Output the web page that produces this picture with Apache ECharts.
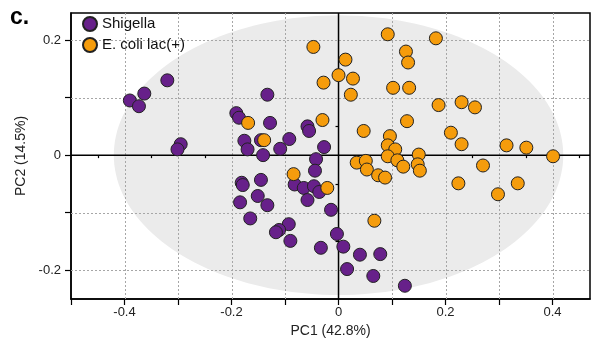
<!DOCTYPE html>
<html><head><meta charset="utf-8">
<script src="https://cdn.jsdelivr.net/npm/echarts@6/dist/echarts.min.js"></script>
<style>html,body{margin:0;padding:0;background:#fff}#c{width:594px;height:347px}</style>
</head><body><div id="c"></div>
<script>
const seriesNames = ['Shigella', 'E. coli lac(+)'];
const shigellaX = [-0.320,-0.363,-0.390,-0.373,-0.295,-0.301,-0.133,-0.191,-0.186,-0.128,-0.058,-0.055,-0.176,-0.145,-0.170,-0.092,-0.109,-0.141,-0.027,-0.042,-0.044,-0.145,-0.181,-0.179,-0.082,-0.065,-0.046,-0.036,-0.151,-0.184,-0.133,-0.058,-0.014,-0.165,-0.093,-0.111,-0.117,-0.090,-0.003,-0.033,0.009,0.040,0.078,0.016,0.065,0.124];
const shigellaY = [0.130,0.107,0.095,0.085,0.019,0.010,0.105,0.073,0.065,0.056,0.050,0.042,0.025,0.026,0.010,0.028,0.011,0.000,0.014,-0.007,-0.027,-0.043,-0.048,-0.052,-0.051,-0.057,-0.054,-0.064,-0.071,-0.082,-0.087,-0.078,-0.095,-0.110,-0.120,-0.130,-0.134,-0.149,-0.137,-0.161,-0.159,-0.173,-0.172,-0.198,-0.210,-0.227];
const ecoliX = [0.092,-0.047,0.126,0.130,0.013,0.182,0.000,-0.028,0.027,0.023,0.102,0.132,-0.169,-0.030,0.128,0.047,-0.139,0.096,0.092,0.106,0.150,0.092,0.110,0.034,0.051,0.053,0.121,0.148,0.152,0.074,0.087,-0.084,-0.021,0.067,0.187,0.230,0.255,0.210,0.230,0.314,0.351,0.401,0.270,0.224,0.335,0.298];
const ecoliY = [0.210,0.188,0.180,0.161,0.166,0.203,0.139,0.126,0.133,0.105,0.117,0.117,0.056,0.061,0.059,0.042,0.026,0.033,0.017,0.010,0.001,-0.002,-0.009,-0.013,-0.010,-0.025,-0.020,-0.016,-0.027,-0.035,-0.039,-0.033,-0.057,-0.114,0.087,0.092,0.083,0.039,0.019,0.017,0.013,-0.002,-0.018,-0.049,-0.049,-0.068];
const xRange = [-0.5, 0.47];
const yRange = [-0.25, 0.247];
const xLabels = [-0.4, -0.2, 0, 0.2, 0.4];
const yLabels = [-0.2, 0, 0.2];
const xMajorTicks = [-0.5, -0.4, -0.3, -0.2, -0.1, 0, 0.1, 0.2, 0.3, 0.4];
const xMinorTicks = [-0.45, -0.35, -0.25, -0.15, -0.05, 0.05, 0.15, 0.25, 0.35, 0.45];
const yMajorTicks = [-0.2, -0.1, 0, 0.1, 0.2];
const yMinorTicks = [-0.15, -0.05, 0.05, 0.15];
const xGrid = [-0.4, -0.3, -0.2, -0.1, 0.1, 0.2, 0.3, 0.4];
const yGrid = [-0.2, -0.1, 0.1, 0.2];
// confidence ellipse: centre x, centre y, half-width, half-height
const ellipse = [0, 0, 0.42, 0.243];

const colors = ['#67208a', '#f59c0c'];
const zip = (a, b) => a.map((v, i) => [v, b[i]]);
const fmt = v => Math.abs(v) < 1e-9 ? '0' : String(+v.toFixed(1));
const font = 'Liberation Sans, Arial, sans-serif';
const tickStyle = { color: '#000', width: 1.2 };

const baseAxis = (range) => ({
  type: 'value', min: range[0], max: range[1],
  axisLine: { onZero: false, lineStyle: { color: '#000', width: 1.5 } },
  splitLine: { show: false }
});

const chart = echarts.init(document.getElementById('c'));
chart.setOption({
  animation: false,
  title: { text: 'c.', left: 5, top: 1, textStyle: { fontFamily: font, fontSize: 23, fontWeight: 'bold', color: '#000' } },
  legend: {
    data: seriesNames, orient: 'vertical', left: 82, top: 16, itemGap: 5, padding: 0,
    itemWidth: 14, itemHeight: 14, icon: 'circle',
    textStyle: { fontFamily: font, fontSize: 15, color: '#111' }
  },
  grid: { left: 71, right: 4, top: 13, bottom: 48, show: true, borderColor: '#000', borderWidth: 1.5, backgroundColor: 'transparent' },
  xAxis: [
    Object.assign(baseAxis(xRange), {
      name: 'PC1 (42.8%)', nameLocation: 'middle', nameGap: 24,
      nameTextStyle: { fontFamily: font, fontSize: 14, color: '#222' },
      axisTick: { show: true, length: 6, lineStyle: tickStyle, customValues: xMajorTicks },
      axisLabel: { customValues: xLabels, formatter: fmt, margin: 7, fontFamily: font, fontSize: 13, color: '#222' }
    }),
    Object.assign(baseAxis(xRange), {
      position: 'bottom', axisLine: { show: false },
      axisTick: { show: true, length: 3, lineStyle: tickStyle, customValues: xMinorTicks },
      axisLabel: { show: false }
    })
  ],
  yAxis: [
    Object.assign(baseAxis(yRange), {
      name: 'PC2 (14.5%)', nameLocation: 'middle', nameGap: 41,
      nameTextStyle: { fontFamily: font, fontSize: 14, color: '#222' },
      axisTick: { show: true, length: 6, lineStyle: tickStyle, customValues: yMajorTicks },
      axisLabel: { customValues: yLabels, formatter: fmt, margin: 10, fontFamily: font, fontSize: 13, color: '#222' }
    }),
    Object.assign(baseAxis(yRange), {
      position: 'left', axisLine: { show: false },
      axisTick: { show: true, length: 3, lineStyle: tickStyle, customValues: yMinorTicks },
      axisLabel: { show: false }
    })
  ],
  series: [
    {
      type: 'custom', name: 'ellipse', z: -1, silent: true,
      data: [ellipse],
      renderItem: (params, api) => {
        const cx = api.value(0), cy = api.value(1), rx = api.value(2), ry = api.value(3);
        const pts = [];
        for (let i = 0; i < 180; i++) {
          const t = i / 180 * Math.PI * 2;
          pts.push(api.coord([cx + rx * Math.cos(t), cy + ry * Math.sin(t)]));
        }
        return { type: 'polygon', shape: { points: pts }, style: { fill: '#ebebeb', stroke: null } };
      }
    },
    {
      type: 'custom', name: 'gridlines', z: 1, silent: true,
      data: [[0, 0]],
      renderItem: (params, api) => {
        const children = [];
        const dot = { stroke: '#a6a6a6', lineWidth: 1, lineDash: [2, 2] };
        xGrid.forEach(v => {
          const a = api.coord([v, yRange[0]]), b = api.coord([v, yRange[1]]);
          children.push({ type: 'line', shape: { x1: Math.round(a[0]) + 0.5, y1: a[1], x2: Math.round(b[0]) + 0.5, y2: b[1] }, style: dot });
        });
        yGrid.forEach(v => {
          const a = api.coord([xRange[0], v]), b = api.coord([xRange[1], v]);
          children.push({ type: 'line', shape: { x1: a[0], y1: Math.round(a[1]) + 0.5, x2: b[0], y2: Math.round(b[1]) + 0.5 }, style: dot });
        });
        const st = { stroke: '#000', lineWidth: 1.5 };
        const a = api.coord([xRange[0], api.value(1)]), b = api.coord([xRange[1], api.value(1)]);
        const c = api.coord([api.value(0), yRange[0]]), d = api.coord([api.value(0), yRange[1]]);
        children.push({ type: 'line', shape: { x1: a[0], y1: a[1], x2: b[0], y2: b[1] }, style: st });
        children.push({ type: 'line', shape: { x1: c[0], y1: c[1], x2: d[0], y2: d[1] }, style: st });
        return { type: 'group', children };
      }
    },
    {
      type: 'scatter', name: seriesNames[0], data: zip(shigellaX, shigellaY), symbolSize: 13, z: 3,
      itemStyle: { color: colors[0], borderColor: '#222', borderWidth: 1, opacity: 1 }
    },
    {
      type: 'scatter', name: seriesNames[1], data: zip(ecoliX, ecoliY), symbolSize: 13, z: 3,
      itemStyle: { color: colors[1], borderColor: '#222', borderWidth: 1, opacity: 1 }
    }
  ]
});
</script></body></html>
